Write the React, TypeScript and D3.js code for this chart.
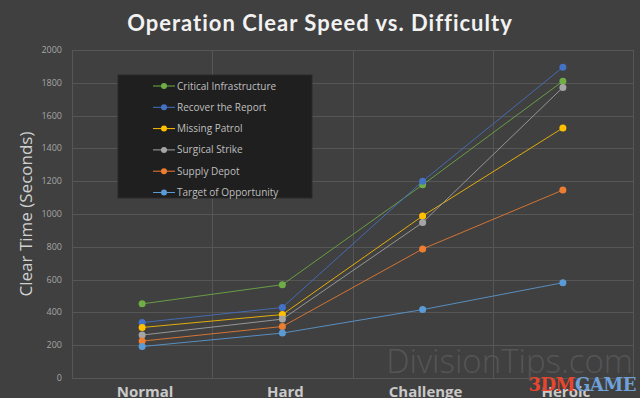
import React from "react";
import * as d3 from "d3";

// difficulty levels on the x axis
const categories = ["Normal", "Hard", "Challenge", "Heroic"];

// clear times in seconds, one array per operation
const criticalInfrastructure = [452, 569, 1178, 1810];
const recoverTheReport = [338, 430, 1200, 1895];
const missingPatrol = [308, 387, 988, 1525];
const surgicalStrike = [262, 359, 948, 1772];
const supplyDepot = [225, 314, 787, 1146];
const targetOfOpportunity = [192, 274, 417, 581];

const yTicks = [0, 200, 400, 600, 800, 1000, 1200, 1400, 1600, 1800, 2000];

const series = [
  { name: "Critical Infrastructure", values: criticalInfrastructure, color: "#70ad47" },
  { name: "Recover the Report", values: recoverTheReport, color: "#4472c4" },
  { name: "Missing Patrol", values: missingPatrol, color: "#ffc000" },
  { name: "Surgical Strike", values: surgicalStrike, color: "#a5a5a5" },
  { name: "Supply Depot", values: supplyDepot, color: "#ed7d31" },
  { name: "Target of Opportunity", values: targetOfOpportunity, color: "#5b9bd5" },
];

const W = 640, H = 398;
const margin = { top: 50, right: 7, bottom: 20, left: 72 };

export default function App() {
  const x = d3.scaleBand().domain(categories).range([margin.left, W - margin.right]);
  const y = d3.scaleLinear().domain([0, 2000]).range([H - margin.bottom, margin.top]);
  const cx = (c: string) => (x(c) as number) + x.bandwidth() / 2;

  const line = d3.line<number>()
    .x((d, i) => cx(categories[i]))
    .y(d => y(d));

  // vertical grid at band edges
  const vLines = categories.map(c => x(c) as number).concat([W - margin.right]);

  const legendX = 118, legendY = 75;

  return (
    <svg width={W} height={H} style={{ position: "absolute", left: 0, top: 0, background: "#404040" }}
      fontFamily="'Open Sans', sans-serif">
      <rect x={0} y={0} width={W} height={H} fill="#404040" />
      <text x={320} y={31} textAnchor="middle" fill="#f2f2f2" fontSize={22} fontWeight="bold"
        letterSpacing={1} fontFamily="Lato, 'Open Sans', sans-serif">
        Operation  Clear  Speed  vs.  Difficulty
      </text>

      {/* grid */}
      <g stroke="#565656" strokeWidth={1}>
        {yTicks.map(t => (
          <line key={t} x1={margin.left} x2={W - margin.right} y1={Math.round(y(t)) + 0.5} y2={Math.round(y(t)) + 0.5} />
        ))}
        {vLines.map((v, i) => (
          <line key={i} x1={Math.round(v) + 0.5} x2={Math.round(v) + 0.5} y1={margin.top} y2={H - margin.bottom} />
        ))}
      </g>

      {/* y tick labels */}
      <g fill="#a6a6a6" fontSize={9} textAnchor="end">
        {yTicks.map(t => (
          <text key={t} x={62} y={y(t) + 3}>{t}</text>
        ))}
      </g>
      <text transform={`translate(32,${(margin.top + H - margin.bottom) / 2}) rotate(-90)`} textAnchor="middle"
        fill="#d0d0d0" fontSize={17}>Clear Time (Seconds)</text>

      {/* watermark */}
      <text x={633} y={373} textAnchor="end" fill="#555555" fontSize={33} fontWeight={300}
        fontFamily="'Open Sans', sans-serif">DivisionTips.com</text>

      {/* x labels */}
      <g fill="#c9c9c9" fontSize={15} fontWeight="bold" textAnchor="middle">
        {categories.map(c => (
          <text key={c} x={cx(c) + 3} y={397}>{c}</text>
        ))}
      </g>

      {/* series */}
      {series.map(s => (
        <g key={s.name}>
          <path d={line(s.values) || ""} fill="none" stroke={s.color} strokeWidth={1} opacity={0.85} />
          {s.values.map((v, i) => (
            <circle key={i} cx={cx(categories[i])} cy={y(v)} r={3.5} fill={s.color} />
          ))}
        </g>
      ))}

      {/* legend */}
      <rect x={legendX} y={legendY} width={194} height={123} fill="#1f1f1f" stroke="#2a2a2a" />
      {series.map((s, i) => {
        const ly = legendY + 11 + i * 21.3;
        return (
          <g key={s.name}>
            <line x1={153} x2={175} y1={ly} y2={ly} stroke={s.color} strokeWidth={1} />
            <circle cx={164} cy={ly} r={3} fill={s.color} />
            <text x={177} y={ly + 3.5} fill="#bfbfbf" fontSize={10}>{s.name}</text>
          </g>
        );
      })}

      {/* logo watermark */}
      <text x={636} y={391} textAnchor="end" fontSize={18} fontWeight="bold" fontFamily="'DejaVu Serif', serif"
        letterSpacing={-0.5}>
        <tspan fill="#e8452c">3DM</tspan><tspan fill="#6fa0d8">GAME</tspan>
      </text>
    </svg>
  );
}
